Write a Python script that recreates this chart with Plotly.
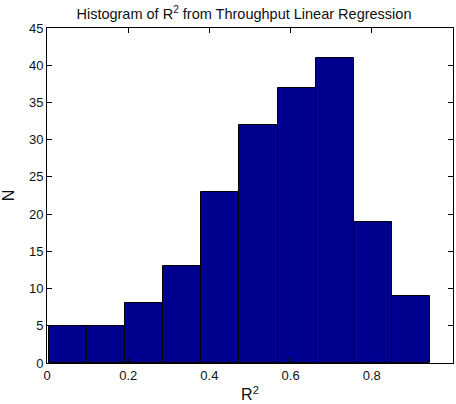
import plotly.graph_objects as go

bin_start = 0.005
bin_width = 0.0938
counts = [5, 5, 8, 13, 23, 32, 37, 41, 19, 9]
x_ticks = [0, 0.2, 0.4, 0.6, 0.8, 1]
x_tick_labels = ["0", "0.2", "0.4", "0.6", "0.8", "1"]
y_ticks = list(range(0, 50, 5))

centers = [bin_start + bin_width * (i + 0.5) for i in range(len(counts))]

fig = go.Figure(go.Bar(
    x=centers, y=counts, width=[bin_width] * len(counts),
    marker=dict(color="#00008F", line=dict(color="black", width=1)),
))

font = dict(family="Liberation Sans, Arial, Helvetica, sans-serif", size=13, color="#111111")
fig.update_layout(
    width=456, height=404,
    margin=dict(l=46.5, r=2.5, t=28, b=41, autoexpand=False),
    paper_bgcolor="white", plot_bgcolor="white",
    font=font, showlegend=False, bargap=0,
    title=dict(text="Histogram of R<sup>2</sup> from Throughput Linear Regression",
               x=0.535, xanchor="center", y=0.966, yanchor="middle",
               font=dict(size=14.5)),
)
fig.update_xaxes(range=[0, 1], tickvals=x_ticks, ticktext=x_tick_labels,
                 ticks="inside", ticklen=5, tickcolor="black", tickwidth=1,
                 showline=True, linecolor="black", linewidth=1, mirror="ticks",
                 showgrid=False, zeroline=False, automargin=False,
                 title=dict(text="R<sup>2</sup>", standoff=7))
fig.update_yaxes(range=[0, 45], tickvals=y_ticks,
                 ticks="inside", ticklen=5, tickcolor="black", tickwidth=1,
                 showline=True, linecolor="black", linewidth=1, mirror="ticks",
                 showgrid=False, zeroline=False, automargin=False,
                 title=dict(text="N", standoff=13))

fig.write_html(
    "out.html",
    config={"displayModeBar": False, "responsive": False},
    post_script="document.body.style.margin='0';"
                "document.body.style.overflow='hidden';"
                "document.documentElement.style.overflow='hidden';",
)
